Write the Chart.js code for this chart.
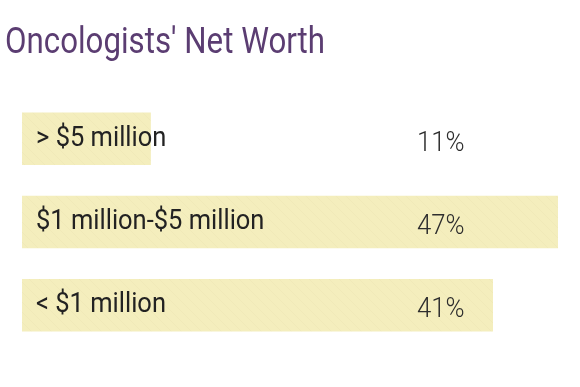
<!DOCTYPE html>
<html>
<head>
<meta charset="utf-8">
<script src="https://cdn.jsdelivr.net/npm/chart.js@4.4.1/dist/chart.umd.min.js"></script>
<style>
  html, body { margin: 0; padding: 0; background: #ffffff; }
  #wrap { width: 580px; height: 387px; position: relative; }
</style>
</head>
<body>
<div id="wrap"><canvas id="myChart" width="580" height="387"></canvas></div>
<script>
// datos
var titulo = "Oncologists' Net Worth";
var categorias = ['> $5 million', '$1 million-$5 million', '< $1 million'];
var porcentajes = [11.3, 47, 41.3];
var etiquetas = ['11%', '47%', '41%'];

// patron de rayas suaves para las barras
function patronBarra() {
  var c = document.createElement('canvas');
  c.width = 10; c.height = 10;
  var g = c.getContext('2d');
  g.fillStyle = '#f4eebd';
  g.fillRect(0, 0, 10, 10);
  g.strokeStyle = 'rgba(200,190,130,0.09)';
  g.lineWidth = 1;
  g.beginPath();
  g.moveTo(0, 0); g.lineTo(10, 10);
  g.moveTo(-5, 5); g.lineTo(5, 15);
  g.moveTo(5, -5); g.lineTo(15, 5);
  g.stroke();
  return g.createPattern(c, 'repeat');
}

// titulo y textos dentro de las barras
var textos = {
  id: 'textos',
  afterDatasetsDraw: function(chart) {
    var ctx = chart.ctx;
    var meta = chart.getDatasetMeta(0);
    ctx.save();
    ctx.fillStyle = '#5b3d72';
    ctx.font = '37px Roboto';
    ctx.textBaseline = 'alphabetic';
    ctx.translate(5, 53);
    ctx.scale(0.845, 1);
    ctx.fillText(titulo, 0, 0);
    ctx.restore();

    for (var i = 0; i < meta.data.length; i++) {
      var bar = meta.data[i];
      ctx.save();
      ctx.fillStyle = '#222222';
      ctx.font = '28px Roboto';
      ctx.textBaseline = 'alphabetic';
      ctx.translate(bar.base + 14, bar.y + 7);
      ctx.scale(0.91, 1);
      ctx.fillText(categorias[i], 0, 0);
      ctx.restore();

      ctx.save();
      ctx.fillStyle = '#2e2e2e';
      ctx.font = '300 28px Roboto';
      ctx.textBaseline = 'alphabetic';
      ctx.translate(417, bar.y + 12);
      ctx.scale(0.92, 1);
      ctx.fillText(etiquetas[i], 0, 0);
      ctx.restore();
    }
  }
};

var graficar = document.getElementById('myChart');
var grafico = new Chart(graficar, {
  type: 'bar',
  data: {
    labels: categorias,
    datasets: [{
      data: porcentajes,
      backgroundColor: patronBarra(),
      borderWidth: 0,
      barPercentage: 0.63,
      categoryPercentage: 1.0
    }]
  },
  options: {
    indexAxis: 'y',
    responsive: false,
    animation: false,
    layout: { padding: { left: 22, right: 22, top: 97, bottom: 40 } },
    scales: {
      x: { display: false, min: 0, max: 47 },
      y: { display: false }
    },
    plugins: {
      legend: { display: false },
      tooltip: { enabled: false },
      title: { display: false }
    }
  },
  plugins: [textos]
});
</script>
</body>
</html>
